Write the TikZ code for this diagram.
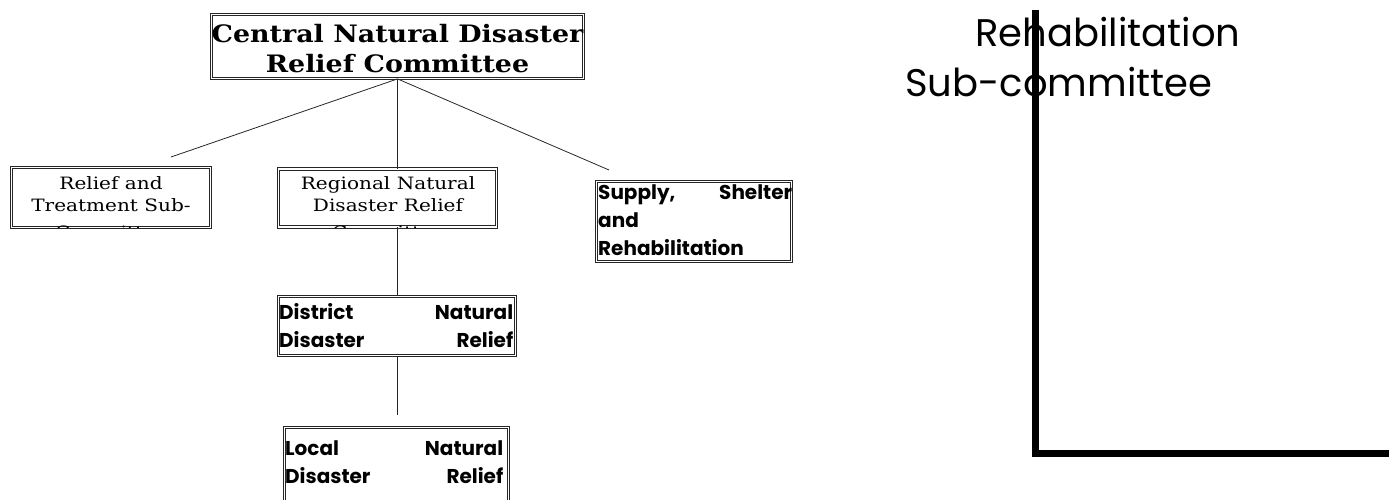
\documentclass[tikz,border=0pt]{standalone}
\usepackage{fontspec}
\setmainfont{DejaVu Serif}
\newfontfamily\wideserif[FakeStretch=1.12]{DejaVu Serif}
\newfontfamily\wideserifsmall[FakeStretch=1.18]{DejaVu Serif}
\newfontfamily\gothic{Poppins}
\usetikzlibrary{positioning}

\tikzset{
  box/.style={draw=black!85, double, double distance=1.6pt, line width=0.8pt, inner sep=0pt},
  serifbig/.style={font=\wideserif\bfseries\fontsize{24}{30}\selectfont, align=center, inner sep=0pt, anchor=north},
  seriftext/.style={font=\wideserifsmall\fontsize{17}{22}\selectfont, align=center, inner sep=0pt, anchor=north},
  gothictext/.style={font=\gothic\bfseries\fontsize{20}{28}\selectfont, align=left, inner sep=0pt, anchor=north west},
  link/.style={draw=black!85, line width=0.8pt},
}

\begin{document}
\begin{tikzpicture}[x=1pt, y=-1pt]
  \useasboundingbox (0,0) rectangle (1389,500);

  % boxes
  \node[box, minimum width=372, minimum height=64] (central) at (397.5,46.5) {};
  \node[box, minimum width=199, minimum height=60] (relief) at (111,197.5) {};
  \node[box, minimum width=218, minimum height=58] (regional) at (387.5,198) {};
  \node[box, minimum width=195, minimum height=80] (supply) at (694,221.5) {};
  \node[box, minimum width=237, minimum height=59] (district) at (397,326) {};
  \node[box, minimum width=224, minimum height=81] (local) at (396.5,468) {};

  % texts, cut off by their boxes
  \begin{scope}
    \clip (central.south west) rectangle (central.north east);
    \node[serifbig] (centralText) at (397.5,24) {Central Natural Disaster\\Relief Committee};
  \end{scope}
  \begin{scope}
    \clip (relief.south west) rectangle (relief.north east);
    \node[seriftext] (reliefText) at (111,176) {Relief and\\Treatment Sub-\\[5pt]Committee};
  \end{scope}
  \begin{scope}
    \clip (regional.south west) rectangle (regional.north east);
    \node[seriftext] (regionalText) at (388,176) {Regional Natural\\Disaster Relief\\[5pt]Committee};
  \end{scope}
  \begin{scope}
    \clip (supply.south west) rectangle (supply.north east);
    \node[gothictext, text width=194] (supplyText) at (598,184) {Supply,\hfill Shelter\\and\\Rehabilitation};
  \end{scope}
  \begin{scope}
    \clip (district.south west) rectangle (district.north east);
    \node[gothictext, text width=234] (districtText) at (279,303) {District\hfill Natural\\Disaster\hfill Relief\\Committee};
  \end{scope}
  \begin{scope}
    \clip (local.south west) rectangle (local.north east);
    \node[gothictext, text width=218] (localText) at (285,440) {Local\hfill Natural\\Disaster\hfill Relief\\[6pt]\hfill Committee\hfill\null};
  \end{scope}

  % connectors
  \coordinate (reliefEnd) at (171,157);
  \coordinate (supplyEnd) at (609,170);
  \coordinate (localEnd) at (397,415);
  \draw[link] (central.south) -- (reliefEnd);
  \draw[link] (central.south) -- (central.south |- regional.north);
  \draw[link] (central.south) -- (supplyEnd);
  \draw[link] (district.north |- regional.south) -- (district.north);
  \draw[link] (district.south) -- (localEnd);

  % overflowing text on the right
  \node[font=\gothic\fontsize{38.5}{50}\selectfont, anchor=base west, inner sep=0pt] (rehabTop) at (975,47) {Rehabilitation};
  \node[font=\gothic\fontsize{38.5}{50}\selectfont, anchor=base west, inner sep=0pt] (rehabBottom) at (905,97) {Sub-committee};

  \coordinate (frameTop) at (1035.5,10);
  \coordinate (frameCorner) at (1035.5,453);
  \coordinate (frameEnd) at (1400,453);
  \draw[line width=7pt] (frameTop) -- (frameCorner) -- (frameEnd);
\end{tikzpicture}
\end{document}
